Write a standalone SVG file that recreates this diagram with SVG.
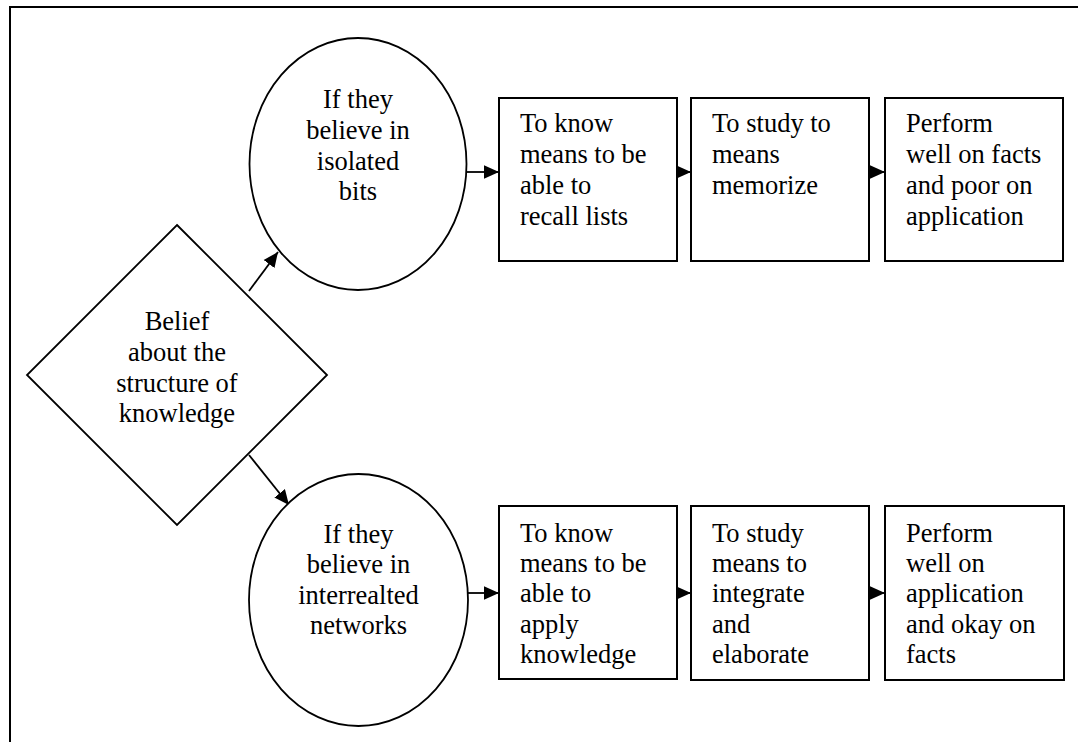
<svg xmlns="http://www.w3.org/2000/svg" width="1078" height="742" viewBox="0 0 1078 742">
<style>
.s{fill:#fff;stroke:#000;stroke-width:1.8}
.b{fill:#fff;stroke:#000;stroke-width:2}
.t{font-family:"Liberation Serif","Times New Roman",serif;font-size:26.5px;fill:#000}
.c{text-anchor:middle}
.l{fill:none;stroke:#000;stroke-width:1.8}
</style>
<defs>
<marker id="ah" viewBox="0 0 10 10" refX="10" refY="5" markerWidth="15" markerHeight="15" markerUnits="userSpaceOnUse" orient="auto">
<path d="M0,0.5 L10,5 L0,9.5 z" fill="#000"/>
</marker>
</defs>
<rect x="10" y="7" width="1100" height="800" fill="#fff" stroke="#000" stroke-width="2"/>
<g id="connectors">
<line class="l" x1="249" y1="291" x2="278" y2="252" marker-end="url(#ah)"/>
<line class="l" x1="249" y1="455" x2="289" y2="505" marker-end="url(#ah)"/>
<line class="l" x1="467" y1="172" x2="499" y2="172" marker-end="url(#ah)"/>
<line class="l" x1="677" y1="172" x2="691" y2="172" marker-end="url(#ah)"/>
<line class="l" x1="869" y1="172" x2="885" y2="172" marker-end="url(#ah)"/>
<line class="l" x1="468" y1="593" x2="499" y2="593" marker-end="url(#ah)"/>
<line class="l" x1="677" y1="593" x2="691" y2="593" marker-end="url(#ah)"/>
<line class="l" x1="869" y1="593" x2="885" y2="593" marker-end="url(#ah)"/>
</g>
<g id="diamond">
<polygon class="s" points="177,225 327,375 177,525 27,375"/>
<text class="t c" x="177" y="330">Belief</text>
<text class="t c" x="177" y="361">about the</text>
<text class="t c" x="177" y="392">structure of</text>
<text class="t c" x="177" y="422">knowledge</text>
</g>
<g id="ellipse-top">
<ellipse class="s" cx="358" cy="164" rx="108.5" ry="126"/>
<text class="t c" x="358" y="108">If they</text>
<text class="t c" x="358" y="139">believe in</text>
<text class="t c" x="358" y="170">isolated</text>
<text class="t c" x="358" y="200">bits</text>
</g>
<g id="ellipse-bottom">
<ellipse class="s" cx="358.5" cy="600" rx="109.5" ry="126"/>
<text class="t c" x="358.5" y="543">If they</text>
<text class="t c" x="358.5" y="573">believe in</text>
<text class="t c" x="358.5" y="604">interrealted</text>
<text class="t c" x="358.5" y="634">networks</text>
</g>
<g id="box1">
<rect class="b" x="499" y="98" width="178" height="163"/>
<text class="t" x="520" y="132">To know</text>
<text class="t" x="520" y="163">means to be</text>
<text class="t" x="520" y="194">able to</text>
<text class="t" x="520" y="225">recall lists</text>
</g>
<g id="box2">
<rect class="b" x="691" y="98" width="178" height="163"/>
<text class="t" x="712" y="132">To study to</text>
<text class="t" x="712" y="163">means</text>
<text class="t" x="712" y="194">memorize</text>
</g>
<g id="box3">
<rect class="b" x="885" y="98" width="178" height="163"/>
<text class="t" x="906" y="132">Perform</text>
<text class="t" x="906" y="163">well on facts</text>
<text class="t" x="906" y="194">and poor on</text>
<text class="t" x="906" y="225">application</text>
</g>
<g id="box4">
<rect class="b" x="499" y="506" width="178" height="173"/>
<text class="t" x="520" y="542">To know</text>
<text class="t" x="520" y="572">means to be</text>
<text class="t" x="520" y="602">able to</text>
<text class="t" x="520" y="633">apply</text>
<text class="t" x="520" y="663">knowledge</text>
</g>
<g id="box5">
<rect class="b" x="691" y="506" width="178" height="174"/>
<text class="t" x="712" y="542">To study</text>
<text class="t" x="712" y="572">means to</text>
<text class="t" x="712" y="602">integrate</text>
<text class="t" x="712" y="633">and</text>
<text class="t" x="712" y="663">elaborate</text>
</g>
<g id="box6">
<rect class="b" x="885" y="506" width="179" height="174"/>
<text class="t" x="906" y="542">Perform</text>
<text class="t" x="906" y="572">well on</text>
<text class="t" x="906" y="602">application</text>
<text class="t" x="906" y="633">and okay on</text>
<text class="t" x="906" y="663">facts</text>
</g>
</svg>
